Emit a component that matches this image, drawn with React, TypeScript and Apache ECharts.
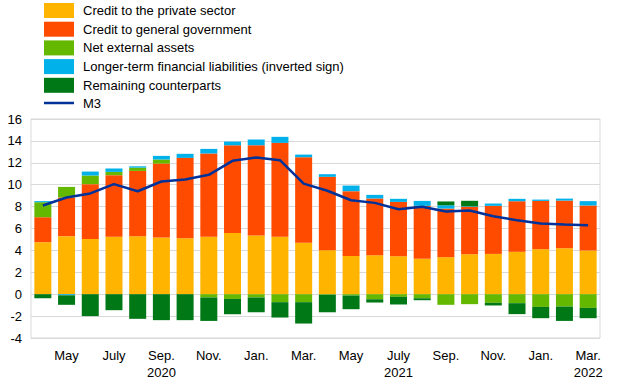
import React, { useEffect, useRef } from "react";
import * as echarts from "echarts";

const months = ["Apr.", "May", "June", "July", "Aug.", "Sep.", "Oct.", "Nov.", "Dec.", "Jan.", "Feb.", "Mar.",
  "Apr.", "May", "June", "July", "Aug.", "Sep.", "Oct.", "Nov.", "Dec.", "Jan.", "Feb.", "Mar."];
const years = ["2020", "2020", "2020", "2020", "2020", "2020", "2020", "2020", "2020", "2021", "2021", "2021",
  "2021", "2021", "2021", "2021", "2021", "2021", "2021", "2021", "2021", "2022", "2022", "2022"];
const yearLabelAt: Record<number, string> = { 5: "2020", 15: "2021", 23: "2022" };

const privateSector = [4.75, 5.3, 5.05, 5.24, 5.3, 5.18, 5.11, 5.24, 5.6, 5.36, 5.24, 4.69,
  4.02, 3.5, 3.56, 3.47, 3.23, 3.38, 3.65, 3.68, 3.87, 4.11, 4.2, 3.99];
const government = [2.28, 3.53, 5.0, 5.63, 5.96, 6.75, 7.34, 7.61, 8.0, 8.24, 8.58, 7.82,
  6.7, 5.91, 5.18, 4.96, 4.84, 4.44, 4.33, 4.39, 4.62, 4.41, 4.35, 4.11];
const netExternal = [1.37, 0.97, 0.79, 0.3, 0.3, 0.37, 0.0, -0.3, -0.43, -0.3, -0.73, -0.73,
  -0.05, -0.12, -0.46, -0.24, -0.37, -0.97, -0.91, -0.79, -0.82, -1.16, -1.13, -1.25];
const longerTerm = [0.1, -0.1, 0.36, 0.31, 0.12, 0.33, 0.37, 0.42, 0.34, 0.52, 0.55, 0.24,
  0.24, 0.51, 0.33, 0.28, 0.45, 0.3, 0.05, 0.21, 0.22, 0.12, 0.18, 0.4];
const remaining = [-0.37, -0.87, -2.0, -1.46, -2.25, -2.37, -2.37, -2.14, -1.4, -1.34, -1.4, -1.95,
  -1.6, -1.25, -0.3, -0.7, -0.18, 0.35, 0.5, -0.24, -1.0, -1.03, -1.31, -0.94];
const m3 = [8.1, 8.83, 9.2, 10.05, 9.4, 10.29, 10.47, 10.9, 12.18, 12.48, 12.24, 10.1,
  9.45, 8.58, 8.34, 7.76, 7.98, 7.55, 7.64, 7.12, 6.76, 6.45, 6.36, 6.3];

const categories = months.map((m, i) => `${m} ${years[i]}`);

export default function App() {
  const ref = useRef<HTMLDivElement>(null);
  useEffect(() => {
    document.body.style.margin = "0";
    if (!ref.current) return;
    const chart = echarts.init(ref.current, null, { renderer: "svg" });
    const font = "Liberation Sans, Arial, sans-serif";
    const bar = (name: string, data: number[], color: string) => ({
      name,
      type: "bar",
      stack: "total",
      data,
      barWidth: 17,
      itemStyle: { color },
    });
    chart.setOption({
      animation: false,
      textStyle: { fontFamily: font },
      legend: {
        orient: "vertical",
        left: 39,
        top: -2,
        itemWidth: 30,
        itemHeight: 15,
        itemGap: 3.7,
        textStyle: { fontSize: 13, color: "#000", fontFamily: font, padding: [0, 0, 0, 4] },
        data: [
          { name: "Credit to the private sector", icon: "rect" },
          { name: "Credit to general government", icon: "rect" },
          { name: "Net external assets", icon: "rect" },
          { name: "Longer-term financial liabilities (inverted sign)", icon: "rect" },
          { name: "Remaining counterparts", icon: "rect" },
          { name: "M3", icon: "path://M0,0L30,0L30,2.5L0,2.5Z", itemStyle: { color: "#003299" } },
        ],
      },
      grid: {
        left: 31,
        right: 20,
        top: 119,
        bottom: 49,
        show: true,
        borderColor: "#d9d9d9",
        borderWidth: 1,
      },
      xAxis: {
        type: "category",
        data: categories,
        axisLine: { show: false },
        axisTick: { show: false },
        axisLabel: {
          interval: (idx: number) => idx % 2 === 1,
          fontSize: 13,
          color: "#000",
          fontFamily: font,
          margin: 9,
          lineHeight: 17,
          formatter: (_v: string, idx: number) =>
            months[idx] + (yearLabelAt[idx] ? "\n" + yearLabelAt[idx] : ""),
        },
      },
      yAxis: {
        type: "value",
        min: -4,
        max: 16,
        interval: 2,
        axisLine: { show: false },
        axisTick: { show: false },
        splitLine: { lineStyle: { color: "#d9d9d9", width: 1 } },
        axisLabel: { fontSize: 13, color: "#000", fontFamily: font, margin: 9 },
      },
      series: [
        bar("Credit to the private sector", privateSector, "#FFB400"),
        bar("Credit to general government", government, "#FF4B00"),
        bar("Net external assets", netExternal, "#65B800"),
        bar("Longer-term financial liabilities (inverted sign)", longerTerm, "#00B1EA"),
        bar("Remaining counterparts", remaining, "#007816"),
        {
          name: "M3",
          type: "line",
          data: m3,
          symbol: "none",
          lineStyle: { color: "#003299", width: 2.5 },
          itemStyle: { color: "#003299" },
          z: 10,
        },
      ],
    });
    return () => chart.dispose();
  }, []);
  return <div ref={ref} style={{ width: 620, height: 387 }} />;
}
